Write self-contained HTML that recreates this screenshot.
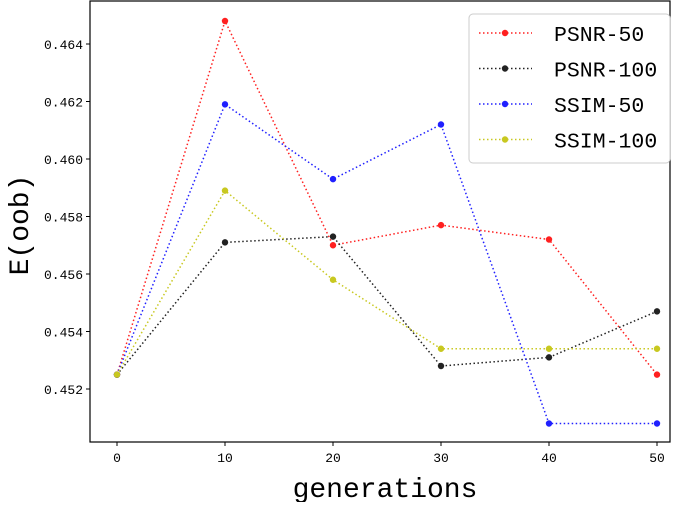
<!DOCTYPE html>
<html><head><meta charset="utf-8"><style>
body{margin:0;background:#fff}
svg text{font-family:"Liberation Mono","WenQuanYi Zen Hei",monospace}
</style></head><body>
<svg id="chart" width="685" height="502">
<rect x="90" y="1" width="580" height="441" fill="none" stroke="#000" stroke-width="1.2"/>
<g id="xt"></g><g id="yt"></g><g id="series"></g>
<text x="385" y="497" font-size="28" text-anchor="middle">generations</text>
<text transform="translate(28,225) rotate(-90)" font-size="28" text-anchor="middle">E(oob)</text>
<g>
<rect x="469" y="14" width="201" height="149" rx="4" fill="#fff" stroke="#ccc"/>
<g id="leg"></g>
</g>
</svg>
<script>
const categories=[0,10,20,30,40,50];
const seriesNames=["PSNR-50","PSNR-100","SSIM-50","SSIM-100"];
const seriesColors=["#ff2020","#222222","#2020ff","#c8c820"];
const psnr50=[0.4525,0.4648,0.4570,0.4577,0.4572,0.4525];
const psnr100=[0.4525,0.4571,0.4573,0.4528,0.4531,0.4547];
const ssim50=[0.4525,0.4619,0.4593,0.4612,0.4508,0.4508];
const ssim100=[0.4525,0.4589,0.4558,0.4534,0.4534,0.4534];
const yTicks=[0.452,0.454,0.456,0.458,0.460,0.462,0.464];
const xTicks=[0,10,20,30,40,50];
const NS="http://www.w3.org/2000/svg";
const X=v=>117+v*10.8;
const Y=v=>389-(v-0.452)/0.002*57.5;
function mk(t,a,p){const e=document.createElementNS(NS,t);for(const k in a)e.setAttribute(k,a[k]);p.appendChild(e);return e;}
const xt=document.getElementById('xt'),yt=document.getElementById('yt'),sg=document.getElementById('series'),lg=document.getElementById('leg');
xTicks.forEach(v=>{
 const l=mk('line',{x1:X(v),x2:X(v),y1:442,y2:446,stroke:'#000'},xt);
 
 
 const t=mk('text',{x:X(v),y:462,'font-size':13,'text-anchor':'middle'},xt);t.textContent=v;
 
 
});
yTicks.forEach(v=>{
 const l=mk('line',{x1:86,x2:90,y1:Y(v),y2:Y(v),stroke:'#000'},yt);
 
 
 const t=mk('text',{x:83,y:Y(v)+5,'font-size':13,'text-anchor':'end'},yt);t.textContent=v.toFixed(3);
 
 
});
[psnr50,psnr100,ssim50,ssim100].forEach((d,i)=>{
 const g=mk('g',{},sg);
 
 
 const p=mk('polyline',{points:d.map((v,j)=>X(categories[j])+','+Y(v)).join(' '),fill:'none',stroke:seriesColors[i],'stroke-width':1.5,'stroke-dasharray':'1.5,2.5'},g);
 
 
 d.forEach((v,j)=>{const c=mk('circle',{cx:X(categories[j]),cy:Y(v),r:3.2,fill:seriesColors[i]},g);
  
  });
 const ly=33+i*35.5;
 const ll=mk('line',{x1:479,x2:532,y1:ly,y2:ly,stroke:seriesColors[i],'stroke-width':1.5,'stroke-dasharray':'1.5,2.5'},lg);
 
 
 const lc=mk('circle',{cx:505,cy:ly,r:3.2,fill:seriesColors[i]},lg);
 
 
 const lt=mk('text',{x:554,y:ly+8,'font-size':21.5},lg);lt.textContent=seriesNames[i];
 
 
});
</script>
</body></html>
